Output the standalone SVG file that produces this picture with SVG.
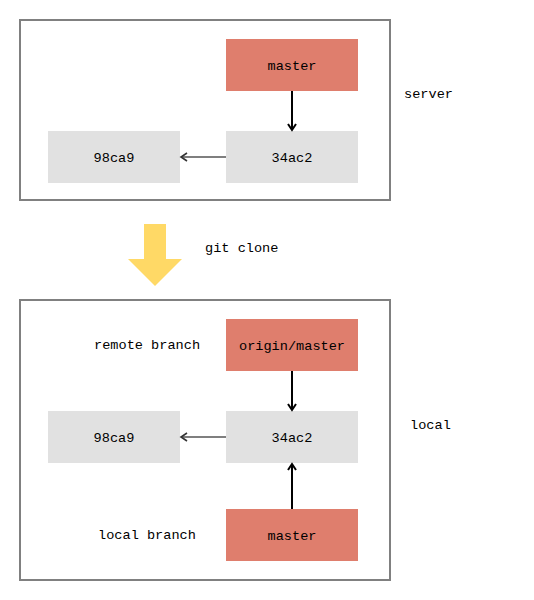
<svg xmlns="http://www.w3.org/2000/svg" width="534" height="600" viewBox="0 0 534 600">
<style>
  text { font-family: "Liberation Mono", "DejaVu Sans Mono", monospace; font-size: 13.6px; fill: #000; }
  .c { text-anchor: middle; }
  .frame { fill: #fff; stroke: #808080; stroke-width: 2; }
  .branch { fill: #DF7E6D; }
  .commit { fill: #E1E1E1; }
  .strong { stroke: #000; stroke-width: 2; fill: none; }
  .weak { stroke: #555; stroke-width: 1.5; fill: none; }
</style>
<defs>
  <marker id="ah" markerWidth="10" markerHeight="10" refX="8" refY="5" orient="auto" markerUnits="userSpaceOnUse">
    <path d="M2,1 L8,5 L2,9" fill="none" stroke="#000" stroke-width="2"/>
  </marker>
  <marker id="ahw" markerWidth="10" markerHeight="10" refX="8" refY="5" orient="auto" markerUnits="userSpaceOnUse">
    <path d="M2,1 L8,5 L2,9" fill="none" stroke="#333" stroke-width="1.6"/>
  </marker>
</defs>

<g id="server-frame"><rect class="frame" x="20" y="20" width="370" height="180"/></g>
<g id="local-frame"><rect class="frame" x="20" y="300" width="370" height="280"/></g>

<g id="server-master"><rect class="branch" x="226" y="39" width="132" height="52"/><text class="c" x="292" y="69.5">master</text></g>
<g id="server-34ac2"><rect class="commit" x="226" y="131" width="132" height="52"/><text class="c" x="292" y="161.5">34ac2</text></g>
<g id="server-98ca9"><rect class="commit" x="48" y="131" width="132" height="52"/><text class="c" x="114" y="161.5">98ca9</text></g>

<g id="local-origin-master"><rect class="branch" x="226" y="319" width="132" height="52"/><text class="c" x="292" y="349.5">origin/master</text></g>
<g id="local-34ac2"><rect class="commit" x="226" y="411" width="132" height="52"/><text class="c" x="292" y="441.5">34ac2</text></g>
<g id="local-98ca9"><rect class="commit" x="48" y="411" width="132" height="52"/><text class="c" x="114" y="441.5">98ca9</text></g>
<g id="local-master"><rect class="branch" x="226" y="509" width="132" height="52"/><text class="c" x="292" y="539.5">master</text></g>

<g id="connectors">
  <line class="strong" x1="292" y1="91" x2="292" y2="130" marker-end="url(#ah)"/>
  <line class="weak" x1="226" y1="157" x2="181" y2="157" marker-end="url(#ahw)"/>
  <line class="strong" x1="292" y1="371" x2="292" y2="410" marker-end="url(#ah)"/>
  <line class="weak" x1="226" y1="437" x2="181" y2="437" marker-end="url(#ahw)"/>
  <line class="strong" x1="292" y1="509" x2="292" y2="464" marker-end="url(#ah)"/>
</g>

<g id="clone-arrow"><polygon points="144,224 166,224 166,259 182,259 155,286 128,259 144,259" fill="#FFD966"/></g>

<g id="labels">
  <text x="404" y="98">server</text>
  <text x="410" y="429">local</text>
  <text x="205" y="252">git clone</text>
  <text x="94" y="349">remote branch</text>
  <text x="98" y="539">local branch</text>
</g>
</svg>
